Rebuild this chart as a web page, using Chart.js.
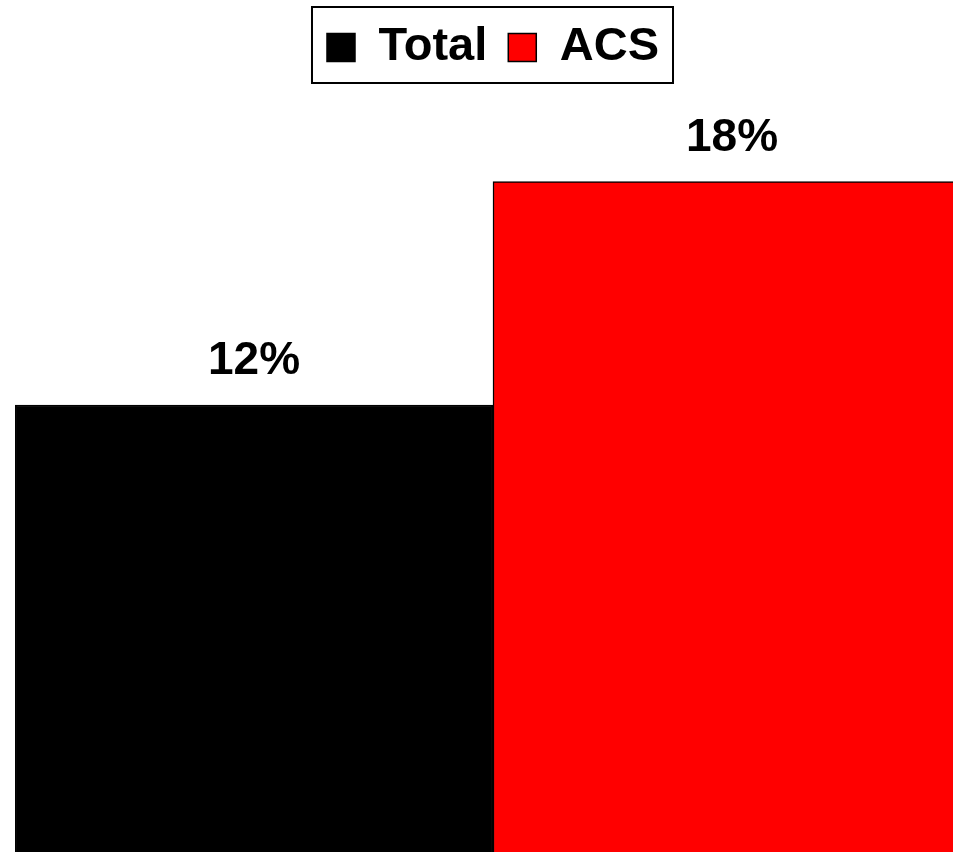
<!DOCTYPE html>
<html>
<head>
<meta charset="utf-8">
<script src="https://cdn.jsdelivr.net/npm/chart.js@4.4.0/dist/chart.umd.min.js"></script>
<style>
  html, body { margin: 0; padding: 0; overflow: hidden; background: #fff; }
  #chart { display: block; }
</style>
</head>
<body>
<canvas id="chart" width="971" height="852"></canvas>
<script>
document.addEventListener("DOMContentLoaded", function() {
    const categories = ['Total', 'ACS'];
    const totalValues = [12, null];
    const acsValues = [null, 18];
    const seriesNames = ['Total', 'ACS'];
    const seriesColors = ['#000000', '#ff0000'];

    // box around the legend, like the original
    const legendBorder = {
        id: 'legendBorder',
        afterDraw(chart) {
            const boxes = chart.legend.legendHitBoxes;
            if (!boxes || !boxes.length) return;
            const ctx = chart.ctx;
            const left = boxes[0].left - 15;
            const last = boxes[boxes.length - 1];
            const right = last.left + last.width + 14;
            const top = boxes[0].top - 17;
            const bottom = boxes[0].top + boxes[0].height + 12;
            ctx.save();
            ctx.strokeStyle = '#000';
            ctx.lineWidth = 2;
            ctx.strokeRect(left, top, right - left, bottom - top);
            ctx.restore();
        }
    };

    // value labels above the bars
    const valueLabels = {
        id: 'valueLabels',
        afterDatasetsDraw(chart) {
            const ctx = chart.ctx;
            ctx.save();
            ctx.font = 'bold 46px "Liberation Sans", Arial, sans-serif';
            ctx.fillStyle = '#000';
            ctx.textAlign = 'center';
            ctx.textBaseline = 'alphabetic';
            chart.data.datasets.forEach((ds, i) => {
                chart.getDatasetMeta(i).data.forEach((bar, j) => {
                    if (ds.data[j] == null) return;
                    ctx.fillText(ds.data[j] + '%', bar.x, bar.y - 31);
                });
            });
            ctx.restore();
        }
    };

    new Chart(document.getElementById('chart').getContext('2d'), {
        type: 'bar',
        data: {
            labels: categories,
            datasets: [
                {
                    label: seriesNames[0],
                    data: totalValues,
                    backgroundColor: seriesColors[0],
                    borderColor: '#000',
                    borderWidth: 1.5
                },
                {
                    label: seriesNames[1],
                    data: acsValues,
                    backgroundColor: seriesColors[1],
                    borderColor: '#000',
                    borderWidth: 1.5
                }
            ]
        },
        options: {
            responsive: false,
            animation: false,
            layout: { padding: { left: 15, right: 0, top: 3, bottom: 0 } },
            datasets: {
                bar: { grouped: false, barPercentage: 1, categoryPercentage: 1 }
            },
            scales: {
                x: { display: false },
                y: { display: false, min: 0, max: 20.7 }
            },
            plugins: {
                tooltip: { enabled: false },
                legend: {
                    position: 'top',
                    labels: {
                        color: '#000',
                        boxWidth: 28,
                        boxHeight: 28,
                        padding: 21,
                        font: { family: '"Liberation Sans", Arial, sans-serif', size: 47, weight: 'bold' }
                    }
                }
            }
        },
        plugins: [legendBorder, valueLabels]
    });
});
</script>
</body>
</html>
